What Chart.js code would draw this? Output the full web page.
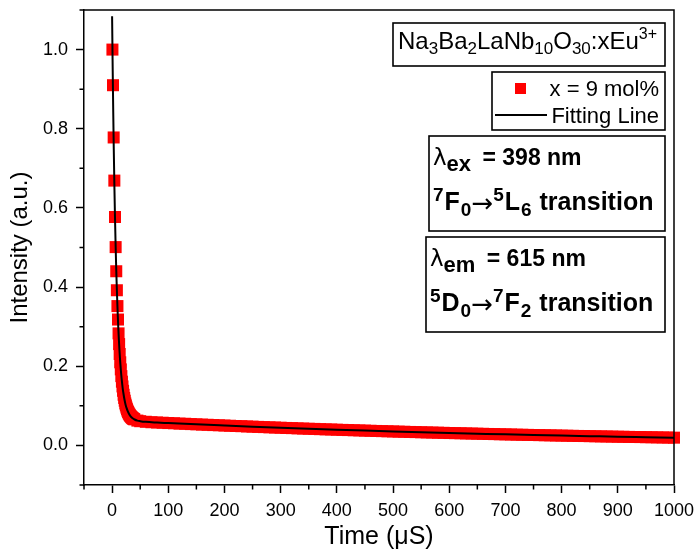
<!DOCTYPE html>
<html>
<head>
<meta charset="utf-8">
<script src="https://cdn.jsdelivr.net/npm/chart.js@4.4.1/dist/chart.umd.min.js"></script>
<style>
  html, body { margin: 0; padding: 0; background: #fff; }
  #wrap { width: 699px; height: 552px; }
</style>
</head>
<body>
<div id="wrap"><canvas id="decay" width="699" height="552"></canvas></div>
<script>
const FONT = "'Liberation Sans', Arial, sans-serif";
const SYMBOL_FONT = "'DejaVu Sans', sans-serif";

// measured decay (x = 9 mol%)
const timeData = [
    0.6, 1.6, 2.8, 4.0, 5.2, 6.3, 7.4, 8.5, 9.5, 10.5,
    11.5, 12.5, 13.5, 14.5, 15.5, 16.5, 17.5, 18.5, 19.5, 20.5,
    21.5, 22.5, 23.5, 24.5, 25.5, 26.5, 27.5, 28.5, 29.5, 30.5,
    31.5, 32.5, 33.5, 34.5, 35.5, 36.5, 37.5, 38.5, 39.5, 45,
    50, 60, 70, 80, 90, 100, 110, 120, 130, 140,
    150, 160, 170, 180, 190, 200, 210, 220, 230, 240,
    250, 260, 270, 280, 290, 300, 310, 320, 330, 340,
    350, 360, 370, 380, 390, 400, 410, 420, 430, 440,
    450, 460, 470, 480, 490, 500, 510, 520, 530, 540,
    550, 560, 570, 580, 590, 600, 610, 620, 630, 640,
    650, 660, 670, 680, 690, 700, 710, 720, 730, 740,
    750, 760, 770, 780, 790, 800, 810, 820, 830, 840,
    850, 860, 870, 880, 890, 900, 910, 920, 930, 940,
    950, 960, 970, 980, 990, 1000
];
const intensityData = [
    1.000, 0.910, 0.778, 0.669, 0.577, 0.501, 0.440, 0.392, 0.352, 0.318,
    0.283, 0.256, 0.231, 0.210, 0.192, 0.175, 0.161, 0.149, 0.138, 0.128,
    0.120, 0.113, 0.106, 0.101, 0.0957, 0.0914, 0.0876, 0.0843, 0.0813, 0.0788,
    0.0765, 0.0745, 0.0727, 0.0713, 0.0699, 0.0687, 0.0676, 0.0667, 0.0659, 0.0627,
    0.0612, 0.0597, 0.0586, 0.0579, 0.0573, 0.0565, 0.0560, 0.0551, 0.0547, 0.0539,
    0.0533, 0.0526, 0.0521, 0.0514, 0.0509, 0.0502, 0.0497, 0.0490, 0.0486, 0.0479,
    0.0474, 0.0468, 0.0463, 0.0457, 0.0452, 0.0447, 0.0441, 0.0437, 0.0431, 0.0426,
    0.0421, 0.0417, 0.0411, 0.0406, 0.0402, 0.0397, 0.0392, 0.0388, 0.0383, 0.0379,
    0.0374, 0.0370, 0.0365, 0.0361, 0.0357, 0.0353, 0.0348, 0.0345, 0.0340, 0.0337,
    0.0332, 0.0329, 0.0325, 0.0321, 0.0318, 0.0313, 0.0310, 0.0307, 0.0303, 0.0300,
    0.0296, 0.0293, 0.0289, 0.0286, 0.0282, 0.0279, 0.0276, 0.0272, 0.0269, 0.0266,
    0.0263, 0.0260, 0.0257, 0.0254, 0.0251, 0.0248, 0.0245, 0.0242, 0.0239, 0.0237,
    0.0234, 0.0231, 0.0228, 0.0226, 0.0223, 0.0220, 0.0218, 0.0215, 0.0213, 0.0211,
    0.0208, 0.0206, 0.0203, 0.0201, 0.0198, 0.0196
];

// fitted curve
const fitTime = [
    0, 1, 2, 3, 4, 5, 6, 7, 8, 9, 10, 11, 12, 13, 14, 15, 16, 17, 18, 19, 20,
    22, 24, 26, 28, 30, 33, 36, 40, 45, 50, 60, 80, 100, 150, 200, 250, 300,
    350, 400, 450, 500, 550, 600, 650, 700, 750, 800, 850, 900, 950, 1000
];
const fitIntensity = [
    1.084, 0.957, 0.845, 0.748, 0.662, 0.587, 0.522, 0.464, 0.414, 0.371, 0.332,
    0.298, 0.269, 0.243, 0.220, 0.201, 0.183, 0.168, 0.155, 0.143, 0.133,
    0.116, 0.103, 0.0935, 0.0858, 0.0800, 0.0736, 0.0692, 0.0655, 0.0627, 0.0613,
    0.0595, 0.0578, 0.0565, 0.0532, 0.0502, 0.0473, 0.0446, 0.0421, 0.0397,
    0.0374, 0.0352, 0.0332, 0.0313, 0.0296, 0.0279, 0.0263, 0.0248, 0.0234,
    0.0220, 0.0208, 0.0196
];

// tick labels
const xTickLabels = [0, 100, 200, 300, 400, 500, 600, 700, 800, 900, 1000];
const yTickLabels = ["0.0", "0.2", "0.4", "0.6", "0.8", "1.0"];

const RED = "rgb(255, 0, 0)";

const toPoints = (xs, ys) => xs.map((x, i) => ({ x, y: ys[i] }));

function isMajorX(v) {
    return xTickLabels.includes(Math.round(v));
}
function isMajorY(v) {
    return yTickLabels.includes(v.toFixed(1)) && Math.abs(Math.round(v * 10) % 2) === 0;
}

// draw a row of text runs (sub/superscripts)
function drawRuns(ctx, x, y, runs) {
    runs.forEach((r) => {
        ctx.font = `${r.bold ? "bold " : ""}${r.size}px ${r.family || FONT}`;
        if (r.x !== undefined) x = r.x;
        ctx.fillText(r.text, x, y + (r.dy || 0));
        x += ctx.measureText(r.text).width + (r.gap || 0);
    });
}

function transitionRuns(a, b, c, d, e, f) {
    return [
        { text: a, size: 19, bold: true, dy: -9, gap: 1 },
        { text: b, size: 25, bold: true, gap: 1 },
        { text: c, size: 19, bold: true, dy: 6 },
        { text: "\u2192", size: 26, family: SYMBOL_FONT, dy: 2 },
        { text: d, size: 19, bold: true, dy: -9, gap: 1 },
        { text: e, size: 25, bold: true, gap: 1 },
        { text: f, size: 19, bold: true, dy: 6, gap: 1 },
        { text: " transition", size: 25, bold: true },
    ];
}

function lambdaRuns(sub, rest) {
    return [
        { text: "\u03bb", size: 23, family: SYMBOL_FONT },
        { text: sub, size: 22, bold: true, dy: 6, gap: 5 },
        { text: rest, size: 23, bold: true },
    ];
}

const decorations = {
    id: "decorations",
    afterDraw(chart) {
        const { ctx, chartArea: a, scales } = chart;
        ctx.save();
        ctx.strokeStyle = "#000";
        ctx.fillStyle = "#000";

        // top / right frame
        ctx.lineWidth = 1.5;
        ctx.beginPath();
        ctx.moveTo(a.left, a.top);
        ctx.lineTo(a.right, a.top);
        ctx.lineTo(a.right, a.bottom);
        ctx.stroke();

        // minor ticks
        ctx.beginPath();
        scales.x.ticks.forEach((t) => {
            if (isMajorX(t.value)) return;
            const px = scales.x.getPixelForValue(t.value);
            ctx.moveTo(px, a.bottom);
            ctx.lineTo(px, a.bottom + 4.5);
        });
        scales.y.ticks.forEach((t) => {
            if (isMajorY(t.value)) return;
            const py = scales.y.getPixelForValue(t.value);
            ctx.moveTo(a.left, py);
            ctx.lineTo(a.left - 4.5, py);
        });
        ctx.stroke();

        // boxes
        ctx.lineWidth = 1.6;
        ctx.strokeRect(393, 23, 272, 43);
        ctx.strokeRect(492, 72, 173, 58);
        ctx.strokeRect(429, 136, 236, 95);
        ctx.strokeRect(426, 237, 239, 95);

        ctx.textBaseline = "alphabetic";
        ctx.textAlign = "left";

        drawRuns(ctx, 398, 49, [
            { text: "Na", size: 24 },
            { text: "3", size: 17, dy: 5 },
            { text: "Ba", size: 24 },
            { text: "2", size: 17, dy: 5 },
            { text: "LaNb", size: 24 },
            { text: "10", size: 17, dy: 5 },
            { text: "O", size: 24 },
            { text: "30", size: 17, dy: 5 },
            { text: ":xEu", size: 24 },
            { text: "3+", size: 16, dy: -10 },
        ]);

        // legend
        const ds = chart.data.datasets;
        ctx.fillStyle = ds[1].backgroundColor;
        ctx.fillRect(515, 83, 11, 11);
        ctx.strokeStyle = ds[0].borderColor;
        ctx.lineWidth = 2;
        ctx.beginPath();
        ctx.moveTo(495, 115);
        ctx.lineTo(547, 115);
        ctx.stroke();
        ctx.fillStyle = "#000";
        ctx.textAlign = "right";
        ctx.font = `22px ${FONT}`;
        ctx.fillText(ds[1].label, 659, 96);
        ctx.fillText(ds[0].label, 659, 123);
        ctx.textAlign = "left";

        // excitation box
        drawRuns(ctx, 433, 165, lambdaRuns("ex", " = 398 nm"));
        drawRuns(ctx, 433, 210, transitionRuns("7", "F", "0", "5", "L", "6"));

        // emission box
        drawRuns(ctx, 430, 266, lambdaRuns("em", " = 615 nm"));
        drawRuns(ctx, 430, 311, transitionRuns("5", "D", "0", "7", "F", "2"));

        ctx.restore();
    },
};

new Chart(document.getElementById("decay"), {
    type: "scatter",
    data: {
        datasets: [
            {
                label: "Fitting Line",
                data: toPoints(fitTime, fitIntensity),
                showLine: true,
                borderColor: "#000",
                backgroundColor: "#000",
                borderWidth: 2,
                pointRadius: 0,
                cubicInterpolationMode: "monotone",
                order: 0,
            },
            {
                label: "x = 9 mol%",
                data: toPoints(timeData, intensityData),
                pointStyle: "rect",
                pointRadius: 8.5,
                pointBorderWidth: 0,
                backgroundColor: RED,
                borderColor: RED,
                clip: false,
                order: 1,
            },
        ],
    },
    plugins: [decorations],
    options: {
        responsive: false,
        animation: false,
        events: [],
        layout: { padding: { top: 10, right: 25, left: 0, bottom: 0 } },
        plugins: {
            legend: { display: false },
            tooltip: { enabled: false },
        },
        scales: {
            x: {
                type: "linear",
                min: -50,
                max: 1000,
                afterFit: (s) => {
                    s.height = 67;
                    s.paddingLeft = 0;
                    s.paddingRight = 0;
                },
                border: { display: true, color: "#000", width: 1.5 },
                grid: {
                    drawOnChartArea: false,
                    tickLength: 8,
                    tickWidth: 1.5,
                    tickColor: (c) => (c.tick && isMajorX(c.tick.value) ? "#000" : "rgba(0,0,0,0)"),
                },
                ticks: {
                    stepSize: 50,
                    autoSkip: false,
                    maxRotation: 0,
                    padding: 7,
                    color: "#000",
                    font: { family: FONT, size: 18 },
                    callback: (v) => (isMajorX(v) ? String(Math.round(v)) : ""),
                },
                title: {
                    display: true,
                    text: "Time (\u03bcS)",
                    color: "#000",
                    font: { family: FONT, size: 25 },
                    padding: { top: 0, bottom: 0 },
                },
            },
            y: {
                type: "linear",
                min: -0.1,
                max: 1.1,
                afterFit: (s) => {
                    s.width = 84;
                    s.paddingTop = 0;
                    s.paddingBottom = 0;
                },
                border: { display: true, color: "#000", width: 1.5 },
                grid: {
                    drawOnChartArea: false,
                    tickLength: 8,
                    tickWidth: 1.5,
                    tickColor: (c) => (c.tick && isMajorY(c.tick.value) ? "#000" : "rgba(0,0,0,0)"),
                },
                ticks: {
                    stepSize: 0.1,
                    autoSkip: false,
                    padding: 8,
                    color: "#000",
                    font: { family: FONT, size: 18 },
                    callback: (v) => (isMajorY(v) ? v.toFixed(1) : ""),
                },
                title: {
                    display: true,
                    text: "Intensity (a.u.)",
                    color: "#000",
                    font: { family: FONT, size: 24 },
                    padding: { top: 6, bottom: 0 },
                },
            },
        },
    },
});
</script>
</body>
</html>
